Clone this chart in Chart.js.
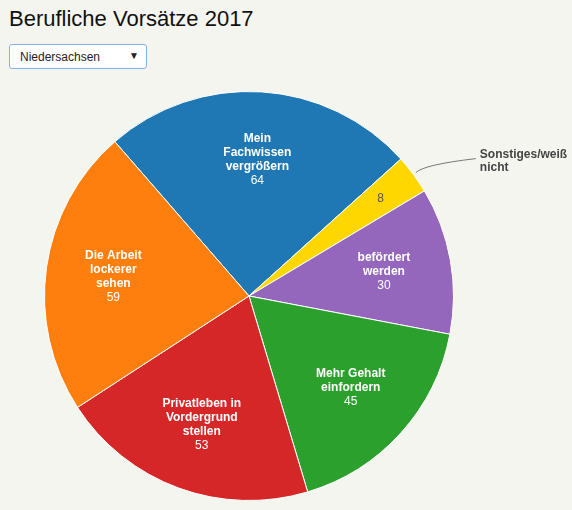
<!DOCTYPE html>
<html>
<head>
<meta charset="utf-8">
<script src="https://cdn.jsdelivr.net/npm/chart.js@4"></script>
<style>
  body { margin: 0; background: #f5f5f0; font-family: Arial, "Liberation Sans", sans-serif; }
  h1 { position: absolute; left: 9px; top: 6px; margin: 0; font-size: 22px; font-weight: normal; color: #111; }
  .sel { position: absolute; left: 9px; top: 44px; width: 138px; height: 25px; box-sizing: border-box;
    background: #fff; border: 1px solid #8ab0e8; border-radius: 3px; font-size: 12px; color: #222;
    padding: 5px 0 0 10px; }
  .sel span { position: absolute; right: 7px; top: 5px; font-size: 10px; }
  #wrap { position: absolute; left: 0; top: 0; width: 572px; height: 510px; }
</style>
</head>
<body>
<h1>Berufliche Vorsätze 2017</h1>
<div class="sel">Niedersachsen<span>▼</span></div>
<div id="wrap"><canvas id="pie"></canvas></div>
<script>
const labels = [
  ["Mein", "Fachwissen", "vergrößern"],
  ["Sonstiges/weiß", "nicht"],
  ["befördert", "werden"],
  ["Mehr Gehalt", "einfordern"],
  ["Privatleben in", "Vordergrund", "stellen"],
  ["Die Arbeit", "lockerer", "sehen"]
];
const values = [64, 8, 30, 45, 53, 59];
const colors = ["#1f77b4", "#ffd700", "#9467bd", "#2ca02c", "#d62728", "#ff7f0e"];

const sliceLabels = {
  id: "sliceLabels",
  afterDatasetsDraw(chart) {
    const ctx = chart.ctx;
    const meta = chart.getDatasetMeta(0);
    ctx.save();
    ctx.textAlign = "center";
    ctx.textBaseline = "middle";
    meta.data.forEach((arc, i) => {
      const p = arc.getProps(["x", "y", "startAngle", "endAngle", "outerRadius"], true);
      const mid = (p.startAngle + p.endAngle) / 2;
      if (values[i] < 15) {
        const r = p.outerRadius * 0.8;
        ctx.fillStyle = "#555";
        ctx.font = "12px Arial";
        ctx.fillText(String(values[i]), p.x + Math.cos(mid) * r, p.y + Math.sin(mid) * r);
        const ax = p.x + Math.cos(mid) * (p.outerRadius + 3);
        const ay = p.y + Math.sin(mid) * (p.outerRadius + 3);
        ctx.strokeStyle = "#777";
        ctx.lineWidth = 1;
        ctx.beginPath();
        ctx.moveTo(ax, ay);
        ctx.quadraticCurveTo(ax + 8, ay - 8, ax + 60, ay - 14);
        ctx.stroke();
        ctx.textAlign = "left";
        ctx.font = "bold 12px Arial";
        ctx.fillStyle = "#444";
        labels[i].forEach((t, k) => ctx.fillText(t, ax + 64, ay - 18 + k * 13));
        ctx.textAlign = "center";
        return;
      }
      const r = p.outerRadius * 0.67;
      const cx = p.x + Math.cos(mid) * r;
      const cy = p.y + Math.sin(mid) * r;
      const lines = labels[i];
      const total = lines.length + 1;
      const y0 = cy - (total - 1) * 14 / 2;
      ctx.fillStyle = "#fff";
      ctx.font = "bold 12px Arial";
      lines.forEach((t, k) => ctx.fillText(t, cx, y0 + k * 14));
      ctx.font = "12px Arial";
      ctx.fillText(String(values[i]), cx, y0 + lines.length * 14);
    });
    ctx.restore();
  }
};

new Chart(document.getElementById("pie"), {
  type: "pie",
  data: {
    labels: labels.map((l) => l.join(" ")),
    datasets: [{ data: values, backgroundColor: colors, borderColor: "#fff", borderWidth: 1 }]
  },
  options: {
    responsive: true,
    maintainAspectRatio: false,
    animation: false,
    rotation: -41,
    layout: { padding: { left: 44, right: 118, top: 91, bottom: 9 } },
    plugins: { legend: { display: false }, tooltip: { enabled: false } }
  },
  plugins: [sliceLabels]
});
</script>
</body>
</html>
